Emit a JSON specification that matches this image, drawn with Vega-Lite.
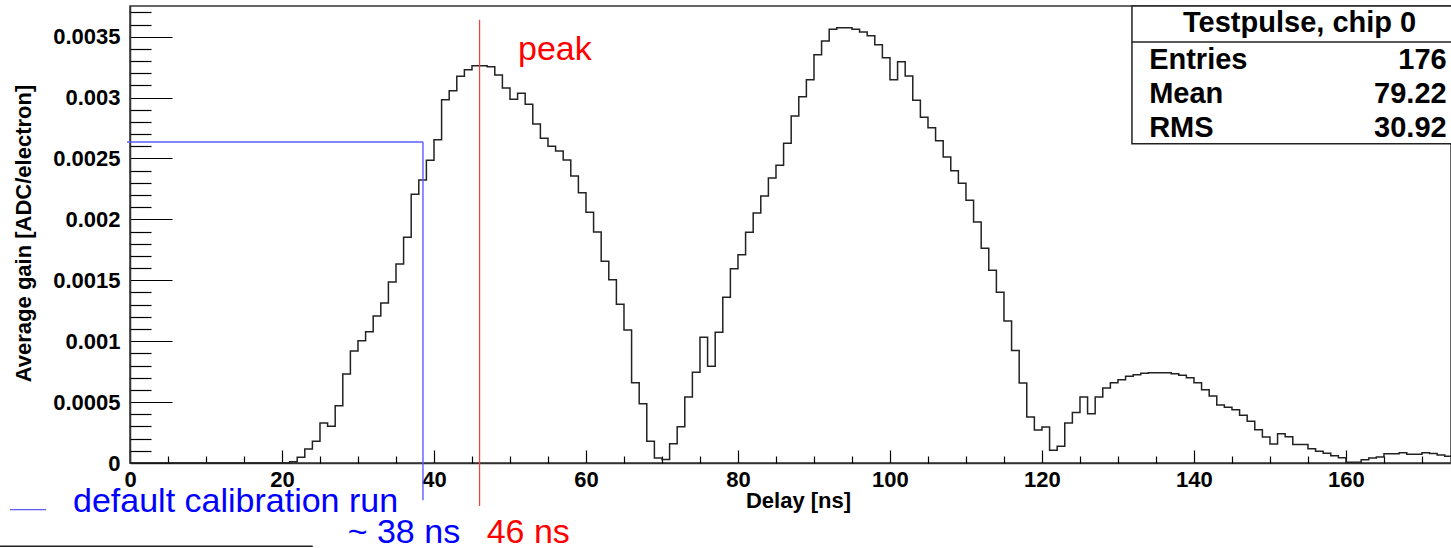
{
  "$schema": "https://vega.github.io/schema/vega-lite/v6.json",
  "width": 1321,
  "height": 457,
  "autosize": {"type": "none"},
  "padding": {"left": 130, "top": 6, "right": 0, "bottom": 85},
  "background": "white",
  "config": {
    "view": {"stroke": "#333", "strokeWidth": 1.5},
    "axis": {"grid": false, "labelFlush": false, "labelOverlap": false, "labelFont": "Liberation Sans", "titleFont": "Liberation Sans", "labelColor": "black", "titleColor": "black", "tickColor": "black", "domainColor": "#333"}
  },
  "resolve": {"axis": {"x": "independent", "y": "independent"}},
  "layer": [
    {
      "data": {"values": [
        {"delay":0,"gain":0},{"delay":1,"gain":0},{"delay":2,"gain":0},{"delay":3,"gain":0},{"delay":4,"gain":0},{"delay":5,"gain":0},{"delay":6,"gain":0},{"delay":7,"gain":0},{"delay":8,"gain":0},{"delay":9,"gain":0},
        {"delay":10,"gain":0},{"delay":11,"gain":0},{"delay":12,"gain":0},{"delay":13,"gain":0},{"delay":14,"gain":0},{"delay":15,"gain":0},{"delay":16,"gain":0},{"delay":17,"gain":0},{"delay":18,"gain":0},{"delay":19,"gain":0},
        {"delay":20,"gain":0},{"delay":21,"gain":0.000011},{"delay":22,"gain":0.000047},{"delay":23,"gain":0.000115},{"delay":24,"gain":0.000178},{"delay":25,"gain":0.000328},{"delay":26,"gain":0.000301},{"delay":27,"gain":0.00047},{"delay":28,"gain":0.000731},{"delay":29,"gain":0.00092},
        {"delay":30,"gain":0.001004},{"delay":31,"gain":0.001078},{"delay":32,"gain":0.001207},{"delay":33,"gain":0.001314},{"delay":34,"gain":0.001486},{"delay":35,"gain":0.001634},{"delay":36,"gain":0.001853},{"delay":37,"gain":0.002206},{"delay":38,"gain":0.002323},{"delay":39,"gain":0.002485},
        {"delay":40,"gain":0.002654},{"delay":41,"gain":0.002983},{"delay":42,"gain":0.003057},{"delay":43,"gain":0.003175},{"delay":44,"gain":0.003229},{"delay":45,"gain":0.003262},{"delay":46,"gain":0.003262},{"delay":47,"gain":0.003254},{"delay":48,"gain":0.003186},{"delay":49,"gain":0.003079},
        {"delay":50,"gain":0.002986},{"delay":51,"gain":0.003035},{"delay":52,"gain":0.002945},{"delay":53,"gain":0.002783},{"delay":54,"gain":0.002666},{"delay":55,"gain":0.0026},{"delay":56,"gain":0.002562},{"delay":57,"gain":0.002488},{"delay":58,"gain":0.002356},{"delay":59,"gain":0.002219},
        {"delay":60,"gain":0.002058},{"delay":61,"gain":0.001897},{"delay":62,"gain":0.001656},{"delay":63,"gain":0.001505},{"delay":64,"gain":0.001303},{"delay":65,"gain":0.001092},{"delay":66,"gain":0.000658},{"delay":67,"gain":0.000486},{"delay":68,"gain":0.000179},{"delay":69,"gain":0.000041},
        {"delay":70,"gain":0.000029},{"delay":71,"gain":0.000158},{"delay":72,"gain":0.000297},{"delay":73,"gain":0.000542},{"delay":74,"gain":0.000745},{"delay":75,"gain":0.001032},{"delay":76,"gain":0.000794},{"delay":77,"gain":0.001074},{"delay":78,"gain":0.001361},{"delay":79,"gain":0.001595},
        {"delay":80,"gain":0.00171},{"delay":81,"gain":0.001894},{"delay":82,"gain":0.002053},{"delay":83,"gain":0.002192},{"delay":84,"gain":0.00234},{"delay":85,"gain":0.002444},{"delay":86,"gain":0.002625},{"delay":87,"gain":0.002849},{"delay":88,"gain":0.003007},{"delay":89,"gain":0.003147},
        {"delay":90,"gain":0.003352},{"delay":91,"gain":0.003465},{"delay":92,"gain":0.003561},{"delay":93,"gain":0.003574},{"delay":94,"gain":0.003574},{"delay":95,"gain":0.003561},{"delay":96,"gain":0.003539},{"delay":97,"gain":0.003508},{"delay":98,"gain":0.003434},{"delay":99,"gain":0.003328},
        {"delay":100,"gain":0.003147},{"delay":101,"gain":0.003295},{"delay":102,"gain":0.003177},{"delay":103,"gain":0.002978},{"delay":104,"gain":0.002838},{"delay":105,"gain":0.002753},{"delay":106,"gain":0.002646},{"delay":107,"gain":0.002512},{"delay":108,"gain":0.0024},{"delay":109,"gain":0.002296},
        {"delay":110,"gain":0.002157},{"delay":111,"gain":0.001979},{"delay":112,"gain":0.001763},{"delay":113,"gain":0.001583},{"delay":114,"gain":0.001402},{"delay":115,"gain":0.001166},{"delay":116,"gain":0.000924},{"delay":117,"gain":0.000657},{"delay":118,"gain":0.000378},{"delay":119,"gain":0.000271},
        {"delay":120,"gain":0.000296},{"delay":121,"gain":0.000104},{"delay":122,"gain":0.000137},{"delay":123,"gain":0.000328},{"delay":124,"gain":0.000415},{"delay":125,"gain":0.000542},{"delay":126,"gain":0.000404},{"delay":127,"gain":0.000542},{"delay":128,"gain":0.000616},{"delay":129,"gain":0.000658},
        {"delay":130,"gain":0.000684},{"delay":131,"gain":0.000712},{"delay":132,"gain":0.000725},{"delay":133,"gain":0.000736},{"delay":134,"gain":0.000741},{"delay":135,"gain":0.000741},{"delay":136,"gain":0.000741},{"delay":137,"gain":0.000733},{"delay":138,"gain":0.00072},{"delay":139,"gain":0.0007},
        {"delay":140,"gain":0.000659},{"delay":141,"gain":0.000602},{"delay":142,"gain":0.00055},{"delay":143,"gain":0.000476},{"delay":144,"gain":0.000457},{"delay":145,"gain":0.000438},{"delay":146,"gain":0.000392},{"delay":147,"gain":0.000342},{"delay":148,"gain":0.000273},{"delay":149,"gain":0.000213},
        {"delay":150,"gain":0.000156},{"delay":151,"gain":0.000241},{"delay":152,"gain":0.000216},{"delay":153,"gain":0.000152},{"delay":154,"gain":0.000152},{"delay":155,"gain":0.000117},{"delay":156,"gain":0.000097},{"delay":157,"gain":0.00008},{"delay":158,"gain":0.00006},{"delay":159,"gain":0.000043},
        {"delay":160,"gain":0.000007},{"delay":161,"gain":0.000007},{"delay":162,"gain":0.000027},{"delay":163,"gain":0.000041},{"delay":164,"gain":0.000049},{"delay":165,"gain":0.000076},{"delay":166,"gain":0.000076},{"delay":167,"gain":0.000085},{"delay":168,"gain":0.000071},{"delay":169,"gain":0.000071},
        {"delay":170,"gain":0.000085},{"delay":171,"gain":0.000078},{"delay":172,"gain":0.000066},{"delay":173,"gain":0.000055},{"delay":174,"gain":0.000045},{"delay":175,"gain":0.000037},{"delay":176,"gain":0.000037}
      ]},
      "mark": {"type": "line", "interpolate": "step-after", "color": "#222", "strokeWidth": 1.5},
      "encoding": {
        "x": {"field": "delay", "type": "quantitative", "scale": {"domain": [0, 173.82], "nice": false, "zero": false},
          "axis": {"orient": "bottom", "values": [0, 20, 40, 60, 80, 100, 120, 140, 160], "tickSize": -13, "tickWidth": 1.2, "domainWidth": 1.5, "labelFontSize": 22, "labelFontWeight": "bold", "labelPadding": 19, "labelAlign": "center", "title": "Delay [ns]", "titleFontSize": 22, "titleFontWeight": "bold", "titleX": 668, "titleY": 44, "titleBaseline": "alphabetic", "titleAlign": "center"}},
        "y": {"field": "gain", "type": "quantitative", "scale": {"domain": [0, 0.003752], "nice": false, "zero": false},
          "axis": {"orient": "left", "values": [0, 0.0005, 0.001, 0.0015, 0.002, 0.0025, 0.003, 0.0035], "format": "~g", "tickSize": -42, "tickWidth": 1.2, "domainWidth": 1.5, "labelFontSize": 22, "labelFontWeight": "bold", "labelPadding": 52, "labelBaseline": "middle", "title": "Average gain [ADC/electron]", "titleFontSize": 22, "titleFontWeight": "bold", "titleAngle": -90, "titleX": -100, "titleY": 227, "titleBaseline": "alphabetic", "titleAlign": "center"}}
      }
    },
    {
      "data": {"values": [{"x": 131.84, "x2": 180, "y": 0.003752, "y2": 0.002622}]},
      "mark": {"type": "rect", "fill": "white", "stroke": "#222", "strokeWidth": 1.5},
      "encoding": {
        "x": {"field": "x", "type": "quantitative", "axis": {"orient": "bottom", "values": [5,10,15,25,30,35,45,50,55,65,70,75,85,90,95,105,110,115,125,130,135,145,150,155,165,170], "tickSize": -7, "tickWidth": 1.2, "labels": false, "domain": false, "title": null}},
        "x2": {"field": "x2"},
        "y": {"field": "y", "type": "quantitative", "axis": {"orient": "left", "values": [0.0001,0.0002,0.0003,0.0004,0.0006,0.0007,0.0008,0.0009,0.0011,0.0012,0.0013,0.0014,0.0016,0.0017,0.0018,0.0019,0.0021,0.0022,0.0023,0.0024,0.0026,0.0027,0.0028,0.0029,0.0031,0.0032,0.0033,0.0034,0.0036,0.0037], "tickSize": -21, "tickWidth": 1.2, "labels": false, "domain": false, "title": null}},
        "y2": {"field": "y2"}
      }
    },
    {
      "data": {"values": [{"x": 131.84, "x2": 180, "y": 0.003457}, {"x": -17.1, "x2": 24.04, "y": -0.000684}]},
      "mark": {"type": "rule", "color": "#222", "strokeWidth": 1.4},
      "encoding": {
        "x": {"field": "x", "type": "quantitative", "axis": null},
        "x2": {"field": "x2"},
        "y": {"field": "y", "type": "quantitative", "axis": null}
      }
    },
    {
      "data": {"values": [{"x": -0.39, "x2": 38.55, "y": 0.002635}, {"x": -15.79, "x2": -11.05, "y": -0.000383}]},
      "mark": {"type": "rule", "color": "#5c5cff", "strokeWidth": 1.4},
      "encoding": {
        "x": {"field": "x", "type": "quantitative", "axis": null},
        "x2": {"field": "x2"},
        "y": {"field": "y", "type": "quantitative", "axis": null}
      }
    },
    {
      "data": {"values": [{"x": 38.55, "y": 0.002635, "y2": -0.000306}]},
      "mark": {"type": "rule", "color": "#5c5cff", "strokeWidth": 1.4},
      "encoding": {
        "x": {"field": "x", "type": "quantitative", "axis": null},
        "y": {"field": "y", "type": "quantitative", "axis": null},
        "y2": {"field": "y2"}
      }
    },
    {
      "data": {"values": [{"x": 46, "y": 0.00364, "y2": -0.000353}]},
      "mark": {"type": "rule", "color": "#ff3b3b", "strokeWidth": 1.2},
      "encoding": {
        "x": {"field": "x", "type": "quantitative", "axis": null},
        "y": {"field": "y", "type": "quantitative", "axis": null},
        "y2": {"field": "y2"}
      }
    },
    {
      "data": {"values": [{"label": "Entries", "x": 134.1, "y": 0.003238}, {"label": "Mean", "x": 134.1, "y": 0.002956}, {"label": "RMS", "x": 134.1, "y": 0.002677}]},
      "mark": {"type": "text", "align": "left", "baseline": "alphabetic", "font": "Liberation Sans", "fontSize": 29, "fontWeight": "bold", "color": "black"},
      "encoding": {
        "x": {"field": "x", "type": "quantitative", "axis": null},
        "y": {"field": "y", "type": "quantitative", "axis": null},
        "text": {"field": "label"}
      }
    },
    {
      "data": {"values": [{"label": "176", "x": 173.25, "y": 0.003238}, {"label": "79.22", "x": 173.25, "y": 0.002956}, {"label": "30.92", "x": 173.25, "y": 0.002677}]},
      "mark": {"type": "text", "align": "right", "baseline": "alphabetic", "font": "Liberation Sans", "fontSize": 29, "fontWeight": "bold", "color": "black"},
      "encoding": {
        "x": {"field": "x", "type": "quantitative", "axis": null},
        "y": {"field": "y", "type": "quantitative", "axis": null},
        "text": {"field": "label"}
      }
    },
    {
      "data": {"values": [{"label": "Testpulse, chip 0", "x": 153.9, "y": 0.003539}]},
      "mark": {"type": "text", "align": "center", "baseline": "alphabetic", "font": "Liberation Sans", "fontSize": 29, "fontWeight": "bold", "color": "black"},
      "encoding": {
        "x": {"field": "x", "type": "quantitative", "axis": null},
        "y": {"field": "y", "type": "quantitative", "axis": null},
        "text": {"field": "label"}
      }
    },
    {
      "data": {"values": [{"label": "peak", "x": 51.05, "y": 0.003312}, {"label": "46 ns", "x": 46.93, "y": -0.000659}]},
      "mark": {"type": "text", "align": "left", "baseline": "alphabetic", "font": "Liberation Sans", "fontSize": 34, "color": "#ff0000"},
      "encoding": {
        "x": {"field": "x", "type": "quantitative", "axis": null},
        "y": {"field": "y", "type": "quantitative", "axis": null},
        "text": {"field": "label"}
      }
    },
    {
      "data": {"values": [{"label": "default calibration run", "x": -7.5, "y": -0.000402}, {"label": "~ 38 ns", "x": 28.64, "y": -0.000659}]},
      "mark": {"type": "text", "align": "left", "baseline": "alphabetic", "font": "Liberation Sans", "fontSize": 34, "color": "#0000ff"},
      "encoding": {
        "x": {"field": "x", "type": "quantitative", "axis": null},
        "y": {"field": "y", "type": "quantitative", "axis": null},
        "text": {"field": "label"}
      }
    }
  ]
}
